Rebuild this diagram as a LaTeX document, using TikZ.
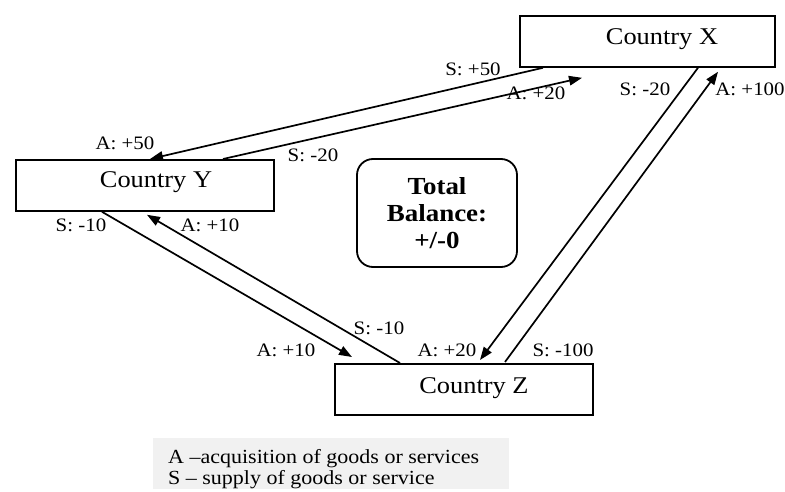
\documentclass[tikz,border=0pt]{standalone}
\usepackage{fontspec}
\setmainfont{Liberation Serif}[FakeStretch=1.1]
\usetikzlibrary{arrows.meta,calc}
\definecolor{legendgray}{HTML}{F1F1F1}
\begin{document}
\begin{tikzpicture}[x=1pt,y=-1pt,
  country/.style={draw,line width=1.8pt,inner sep=0pt,anchor=north west,minimum height=51pt},
  ctext/.style={anchor=base,inner sep=0pt,font=\fontsize{24}{28}\selectfont},
  elabel/.style={inner sep=0pt,font=\fontsize{19}{22}\selectfont},
  ltext/.style={anchor=base west,inner sep=0pt,font=\fontsize{20}{21}\selectfont},
  flow/.style={line width=1.7pt,-{Triangle[length=13pt,width=9.5pt]}},
]
\useasboundingbox (0,0) rectangle (785,492);

% boxes
\node[country,minimum width=255pt] (X) at (519,15) {};
\node[country,minimum width=258pt] (Y) at (15,159) {};
\node[country,minimum width=258pt] (Z) at (334,363) {};
\node[ctext] (Xt) at (662,45) {Country X};
\node[ctext] (Yt) at (156,188) {Country Y};
\node[ctext] (Zt) at (474,393) {Country Z};

% total balance
\node[draw,line width=1.8pt,rounded corners=16pt,minimum width=160pt,minimum height=108pt,
      align=center,font=\bfseries\fontsize{24.5}{27}\selectfont] (T) at (437,213)
      {Total\\Balance:\\+/-0};

% connectors
\draw[flow] ([xshift=24pt]X.south west) -- ([xshift=135pt]Y.north west);
\draw[flow] ([xshift=208pt]Y.north west) -- ([xshift=63pt,yshift=-10pt]X.south west);
\draw[flow] ([xshift=179pt]X.south west) -- ([xshift=146pt,yshift=3pt]Z.north west);
\draw[flow] ([xshift=171pt,yshift=1pt]Z.north west) -- ([xshift=199pt,yshift=-4pt]X.south west);
\draw[flow] ([xshift=87pt]Y.south west) -- ([xshift=18pt,yshift=6pt]Z.north west);
\draw[flow] ([xshift=66pt]Z.north west) -- ([xshift=132pt,yshift=-3pt]Y.south west);

% labels
\node[elabel] (l1) at (473,69) {S: +50};
\node[elabel] (l2) at (536,93) {A: +20};
\node[elabel] (l3) at (645,89) {S: -20};
\node[elabel] (l4) at (750,89) {A: +100};
\node[elabel] (l5) at (125,143) {A: +50};
\node[elabel] (l6) at (313,155) {S: -20};
\node[elabel] (l7) at (81,225) {S: -10};
\node[elabel] (l8) at (210,225) {A: +10};
\node[elabel] (l9) at (379,328) {S: -10};
\node[elabel] (l10) at (286,350) {A: +10};
\node[elabel] (l11) at (447,350) {A: +20};
\node[elabel] (l12) at (563,350) {S: -100};

% legend
\node[fill=legendgray,inner sep=0pt,anchor=north west,minimum width=356pt,minimum height=51pt] (L) at (153,438) {};
\node[ltext] (La) at (168,463) {A \textendash acquisition of goods or services};
\node[ltext] (Ls) at (168,484) {S \textendash{} supply of goods or service};
\end{tikzpicture}
\end{document}
